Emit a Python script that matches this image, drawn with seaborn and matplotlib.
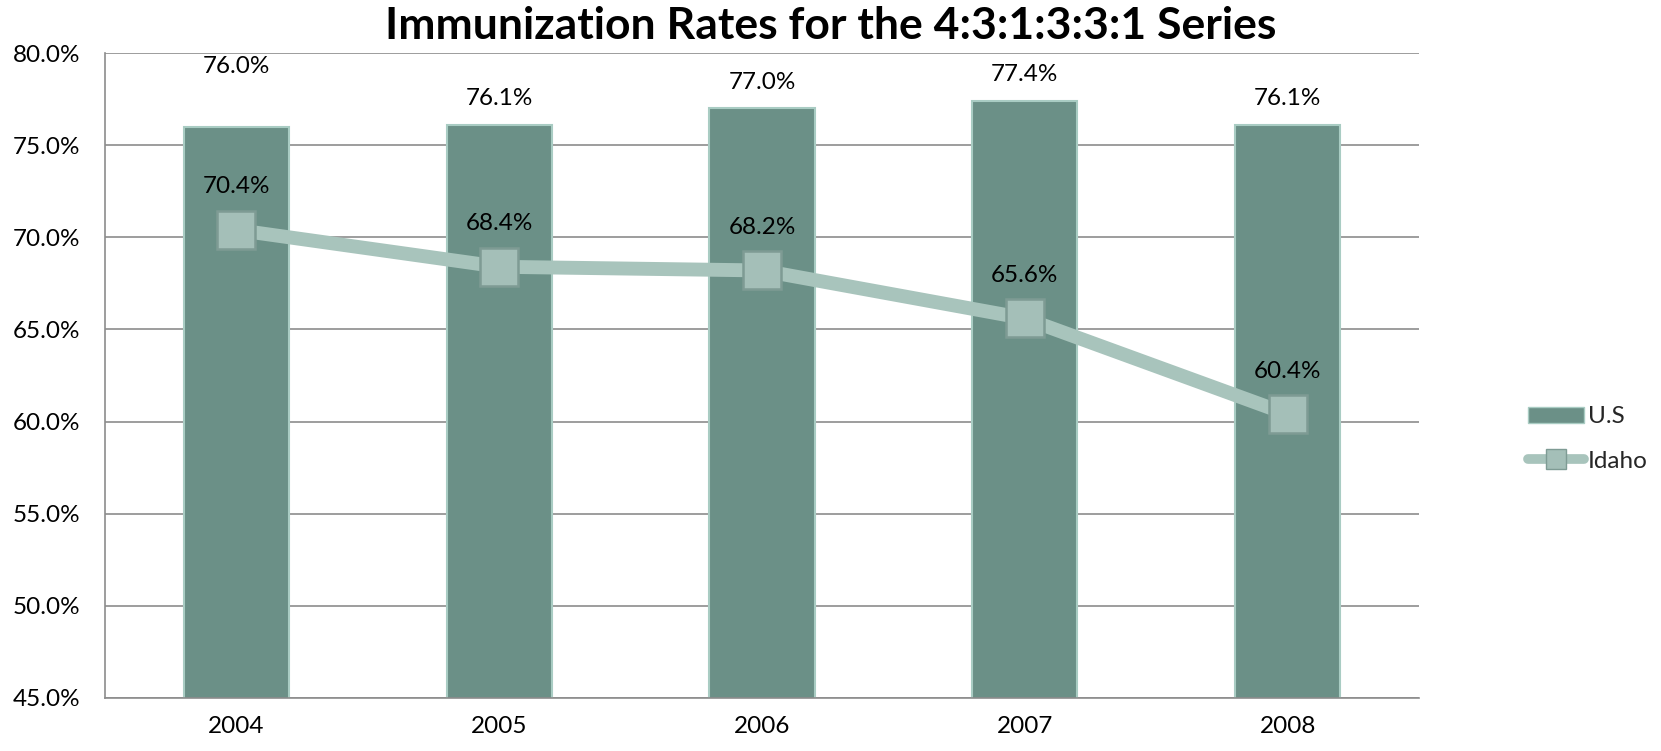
import matplotlib
matplotlib.use("Agg")
import matplotlib.pyplot as plt
import seaborn as sns
import pandas as pd
from matplotlib.ticker import PercentFormatter
from matplotlib.patches import Patch
from matplotlib.lines import Line2D

years = ["2004", "2005", "2006", "2007", "2008"]
us_rates = [0.760, 0.761, 0.770, 0.774, 0.761]
idaho_rates = [0.704, 0.684, 0.682, 0.656, 0.604]
title = "Immunization Rates for the 4:3:1:3:3:1 Series"

sns.set_theme(style="white")
plt.rcParams['font.family'] = ['Lato', 'DejaVu Sans']

df = pd.DataFrame({"year": years, "U.S": us_rates, "Idaho": idaho_rates})

fig = plt.figure(figsize=(16.61, 7.51), dpi=100)
ax = fig.add_axes([105/1661, 1-698/751, (1419-105)/1661, (698-53)/751])

bar_color = "#6B9087"
line_color = "#A8C4BC"

sns.barplot(data=df, x="year", y="U.S", color=bar_color, width=0.40, ax=ax,
            saturation=1, edgecolor="#A9CCC3", linewidth=1.5, zorder=2)
sns.pointplot(data=df, x="year", y="Idaho", color=line_color, markers="s",
              linestyles="-", ax=ax, markersize=27, linewidth=10, zorder=3)
for coll in ax.collections:
    coll.set_edgecolor("#7E9B94")
for ln in ax.lines:
    ln.set_markerfacecolor("#A4BFB8")
    ln.set_markeredgecolor("#7E9B94")
    ln.set_markeredgewidth(1.8)

ax.set_ylim(0.45, 0.80)
ax.set_xlim(-0.5, 4.5)
ax.set_yticks([0.45, 0.50, 0.55, 0.60, 0.65, 0.70, 0.75, 0.80])
ax.yaxis.set_major_formatter(PercentFormatter(1.0, decimals=1))
ax.yaxis.grid(True, color="#8C8C8C", linewidth=1.2, zorder=0)
ax.set_axisbelow(True)
ax.set_xlabel("")
ax.set_ylabel("")
for s in ["top", "right"]:
    ax.spines[s].set_visible(False)
for s in ["left", "bottom"]:
    ax.spines[s].set_color("#8C8C8C")
    ax.spines[s].set_linewidth(1.2)
ax.tick_params(axis="y", length=0, pad=18, labelsize=17.5, labelcolor="black")
ax.tick_params(axis="x", length=0, pad=13, labelsize=17.5, labelcolor="black")

# data labels
us_offsets = [60, 26, 26, 26, 26]
for i, (u, d) in enumerate(zip(us_rates, idaho_rates)):
    ax.annotate(f"{u*100:.1f}%", (i, u), xytext=(0, us_offsets[i]*0.72),
                textcoords="offset points", ha="center", va="center",
                fontsize=17.5, color="black")
    ax.annotate(f"{d*100:.1f}%", (i, d), xytext=(0, 43*0.72),
                textcoords="offset points", ha="center", va="center",
                fontsize=17.5, color="black", zorder=5)

fig.text(0.5, 1-26/751, title, ha="center", va="center",
         fontsize=32, fontweight="bold", color="black")

handles = [
    Patch(facecolor=bar_color, edgecolor="#A9CCC3", label="U.S"),
    Line2D([0], [0], color=line_color, linewidth=7, marker="s", markersize=14,
           markerfacecolor="#A4BFB8", markeredgecolor="#7E9B94", label="Idaho"),
]
fig.legend(handles=handles, loc="center left", bbox_to_anchor=(1528/1661, 1-439/751),
           frameon=False, fontsize=17.5, handlelength=2.3, handleheight=0.6,
           handletextpad=0.15, labelspacing=0.95, borderpad=0, borderaxespad=0)

fig.savefig("out.png", dpi=100)
